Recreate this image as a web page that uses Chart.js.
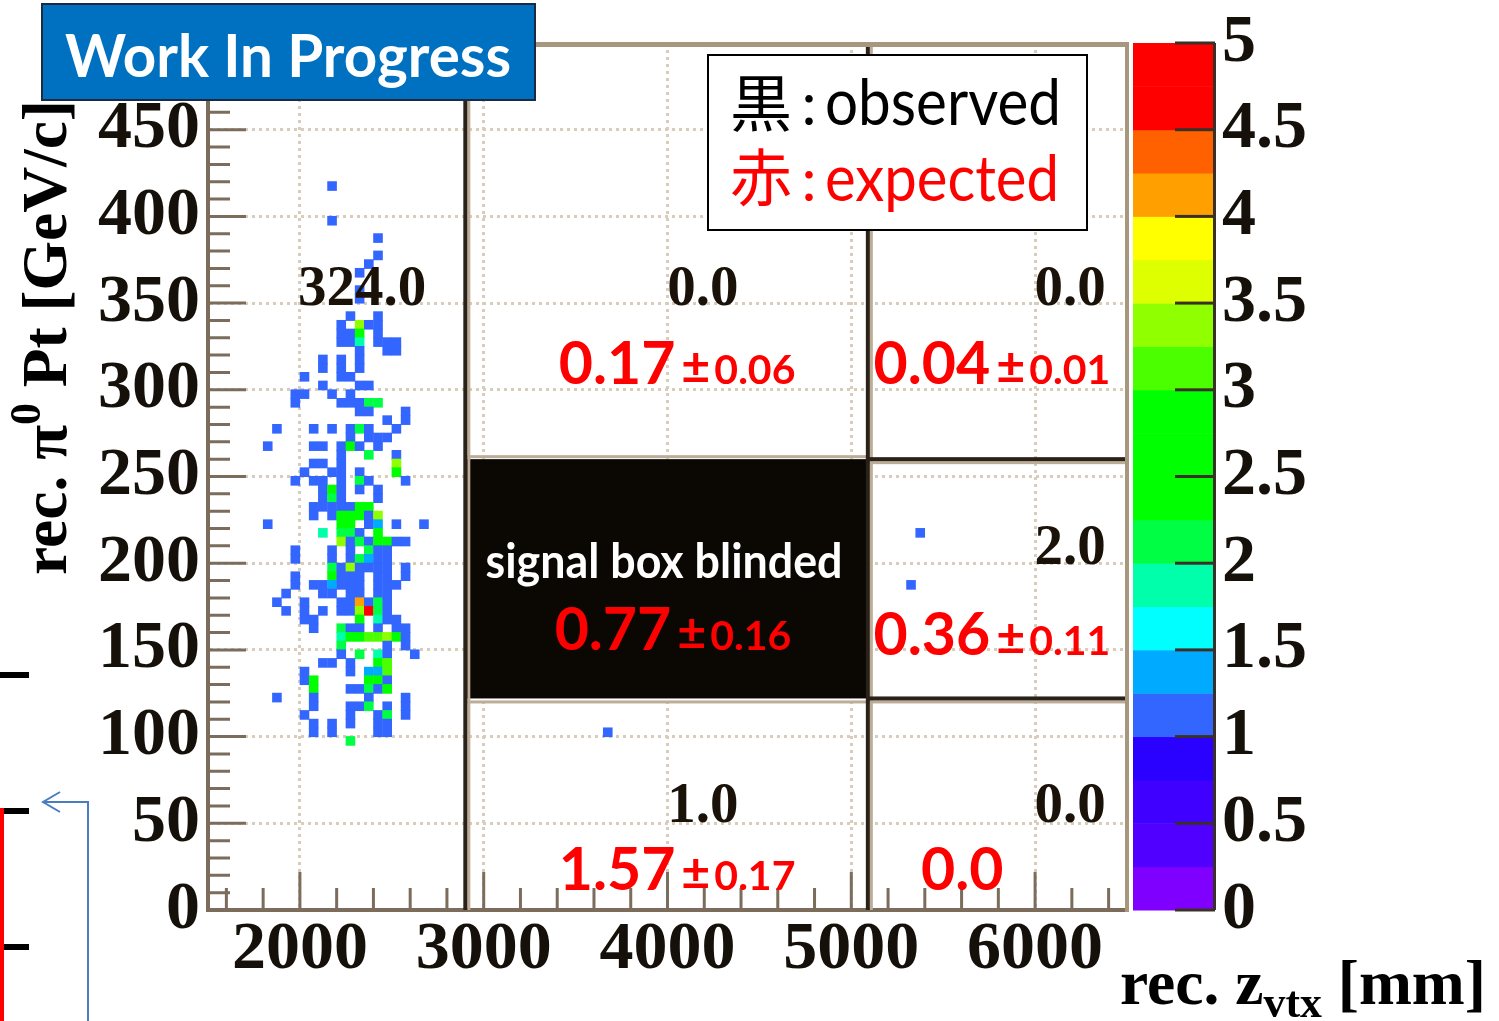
<!DOCTYPE html>
<html>
<head>
<meta charset="utf-8">
<script src="https://cdn.jsdelivr.net/npm/chart.js@4.4.1/dist/chart.umd.min.js"></script>
<style>
  html, body { margin: 0; padding: 0; background: #fff; overflow: hidden; }
  canvas { display: block; }
</style>
</head>
<body>
<canvas id="plot" width="1499" height="1021"></canvas>
<script>
// axis ticks
const zTicks = [2000, 3000, 4000, 5000, 6000];
const ptTicks = [0, 50, 100, 150, 200, 250, 300, 350, 400, 450];
const colourTicks = [0, 0.5, 1, 1.5, 2, 2.5, 3, 3.5, 4, 4.5, 5];

// signal box edges
const signalZ = [2900, 5090];
const signalPt = [122, 260];

// 2D histogram (50 mm x 5 GeV/c bins): one entry per Pt row,
// bin centres in z and the bin contents read from the colour scale
const ptRows = [
  417.5, 397.5, 387.5, 377.5, 372.5, 367.5, 357.5, 352.5, 342.5, 337.5,
  332.5, 327.5, 322.5, 317.5, 312.5, 307.5, 302.5, 297.5, 292.5, 287.5,
  282.5, 277.5, 272.5, 267.5, 262.5, 257.5, 252.5, 247.5, 242.5, 237.5,
  232.5, 227.5, 222.5, 217.5, 212.5, 207.5, 202.5, 197.5, 192.5, 187.5,
  182.5, 177.5, 172.5, 167.5, 162.5, 157.5, 152.5, 147.5, 142.5, 137.5,
  132.5, 127.5, 122.5, 117.5, 112.5, 107.5, 102.5, 97.5
];
const zRows = [
  [2175], [2175], [2425], [2425], [2375], [2325], [2325], [2325],
  [2275, 2425],
  [2225, 2325, 2375, 2425],
  [2225, 2275, 2325, 2425],
  [2225, 2275, 2325, 2425, 2475, 2525],
  [2325, 2475, 2525],
  [2125, 2225, 2325],
  [2125, 2225, 2325],
  [2025, 2225, 2275],
  [2125, 2325, 2375],
  [1975, 2025, 2175, 2275],
  [1975, 2225, 2275, 2325, 2375, 2425],
  [2325, 2375, 2575],
  [2475, 2575],
  [1875, 2075, 2175, 2275, 2325, 2375, 2525],
  [2275, 2375, 2425, 2475],
  [1825, 2075, 2125, 2225, 2275, 2325, 2425],
  [2225, 2375, 2525],
  [2075, 2125, 2225, 2525],
  [2025, 2175, 2225, 2325, 2525],
  [1975, 2075, 2125, 2225, 2325, 2375, 2575],
  [2125, 2175, 2225, 2325, 2425],
  [2125, 2175, 2225, 2425],
  [2075, 2125, 2175, 2225, 2275, 2325, 2375],
  [2075, 2175, 2225, 2275, 2325, 2375, 2425],
  [1825, 2225, 2275, 2375, 2425, 2525, 2675],
  [2125, 2225, 2275, 2325, 2425, 5375],
  [2225, 2275, 2325, 2375, 2425, 2475, 2525, 2575],
  [1975, 2175, 2275, 2375, 2425, 2475],
  [1975, 2175, 2275, 2325, 2375, 2425, 2475],
  [2175, 2225, 2275, 2325, 2375, 2425, 2475, 2575],
  [1975, 2175, 2225, 2275, 2325, 2425, 2475, 2575],
  [1975, 2075, 2125, 2175, 2225, 2275, 2325, 2425, 2475, 2525, 5325],
  [1925, 2125, 2175, 2275, 2325, 2425, 2475],
  [1875, 2025, 2225, 2275, 2325, 2375, 2425, 2475],
  [1925, 2025, 2125, 2225, 2275, 2325, 2375, 2425, 2475],
  [2025, 2075, 2325, 2425, 2475, 2525],
  [2075, 2225, 2275, 2325, 2425, 2525, 2575],
  [2225, 2275, 2325, 2375, 2425, 2475, 2525, 2575],
  [2225, 2475, 2575],
  [2225, 2325, 2425, 2475, 2625],
  [2125, 2175, 2275, 2425, 2475],
  [2025, 2275, 2375, 2425, 2475],
  [2025, 2075, 2375, 2425, 2475],
  [2075, 2275, 2325, 2375, 2425, 2475],
  [1875, 2075, 2375, 2575],
  [2075, 2275, 2325, 2375, 2475, 2575],
  [2025, 2275, 2425, 2475, 2575],
  [2075, 2175, 2275, 2425, 2475],
  [2075, 2175, 2425, 2475, 3675],
  [2275]
];
const nRows = [
  [1], [1], [1], [1], [1], [1], [1], [1],
  [1, 1],
  [1, 3.3, 1, 1],
  [1, 1, 2.5, 1],
  [1, 1, 1.8, 1, 1, 1],
  [1, 1, 1],
  [1, 1, 1],
  [1, 1, 1],
  [1, 1, 1],
  [1, 1, 1],
  [1, 1, 1, 1],
  [1, 1, 1, 1, 2, 2],
  [1, 1, 1],
  [1, 1],
  [1, 1, 1, 1, 2, 1, 1],
  [1, 1, 1, 1],
  [1, 1, 1, 1, 2.5, 1, 1],
  [1, 2, 1],
  [1, 1, 1, 3.3],
  [1, 1, 1, 1, 2.5],
  [1, 1, 1, 1, 2, 1, 1],
  [1, 2.5, 1, 1, 1],
  [1, 2, 1, 1],
  [1, 1, 1, 1, 1, 2.5, 2.5],
  [1, 1, 2.5, 2.5, 2.5, 1, 3.3],
  [1, 2.5, 2.5, 1, 1.3, 1, 1],
  [1.8, 2, 2, 1, 2.5, 1],
  [3.3, 1, 2, 1, 2.5, 2.5, 1, 1],
  [1, 1, 1, 2, 1, 1],
  [1, 1, 1, 2, 1.3, 1, 1],
  [2, 1, 3.3, 1, 1, 1, 1, 1],
  [1, 2.5, 1, 1, 1, 1, 1, 1],
  [1, 1, 1, 1.3, 1, 1, 1, 1, 1, 1, 1],
  [1, 1, 1, 1, 1, 1, 1],
  [1, 1, 1, 1, 4, 1, 2, 1],
  [1, 1, 1, 1, 1, 3.3, 5, 2, 1],
  [1, 1, 2.5, 1.8, 1, 1],
  [1, 2, 1, 1, 1, 1, 1],
  [1.8, 2.5, 2.5, 3, 3, 3.3, 2.5, 1],
  [2, 1, 1],
  [1, 2, 1.8, 1, 1],
  [1, 1, 1, 2.5, 3],
  [1, 1, 1.3, 1.3, 3],
  [1, 2.5, 2.5, 2.5, 1],
  [2.5, 1, 1, 2, 1, 2.5],
  [1, 1, 1, 1],
  [1, 1, 1, 2, 1, 1],
  [1, 1, 1, 2, 1],
  [1, 1, 1, 1, 1],
  [1, 1, 1, 1, 1],
  [2]
];

// numbers written in each region: observed (black), expected (red)
const observed = ['324.0', '0.0', '0.0', '2.0', '1.0', '0.0'];
const expected = ['0.17', '0.04', '0.77', '0.36', '1.57', '0.0'];
const expectedErr = ['0.06', '0.01', '0.16', '0.11', '0.17', ''];

// label anchors in data units: [z centre, Pt of baseline]
const observedAt = [[2338, 349], [4193, 349], [6190, 349], [6190, 199.5], [4193, 50.5], [6190, 50.5]];
const expectedAt = [[4052, 303.6], [5765, 303.6], [4030, 150.2], [5765, 146.8], [4052, 11.8], [5603, 11.8]];

const SERIF = '"Liberation Serif", "Times New Roman", serif';
const SANS = 'Lato, "Noto Sans CJK JP", sans-serif';

// ROOT-like palette, 20 levels between 0 and 5
const palette = [
  '#8000ff', '#5000ff', '#4000ff', '#2a00ff', '#3366ff',
  '#00aaff', '#00ffff', '#00ffaa', '#00ff44', '#00ff00',
  '#00ff00', '#00ff00', '#4cff00', '#90ff00', '#ddff00',
  '#ffff00', '#ffa000', '#ff6000', '#ff0000', '#ff0000'
];
function levelColour(v) {
  return palette[Math.min(19, Math.max(0, Math.floor(v / 0.25)))];
}

const cells = [];
ptRows.forEach((pt, i) => {
  zRows[i].forEach((z, j) => cells.push({ x: z, y: pt, v: nRows[i][j] }));
});

function put(ctx, s, x, y, font, colour, align, maxW) {
  ctx.font = font;
  ctx.fillStyle = colour;
  ctx.textAlign = align || 'center';
  ctx.textBaseline = 'alphabetic';
  if (maxW) ctx.fillText(s, x, y, maxW);
  else ctx.fillText(s, x, y);
}

function textWidth(ctx, s, font) {
  ctx.font = font;
  return ctx.measureText(s).width;
}

// draws pieces [text, font, dy] in a row, squeezed to a given width
function row(ctx, pieces, x0, y0, width) {
  let total = 0;
  pieces.forEach(p => { total += textWidth(ctx, p[0], p[1]); });
  ctx.save();
  ctx.translate(x0, y0);
  ctx.scale(width / total, 1);
  ctx.textAlign = 'left';
  ctx.textBaseline = 'alphabetic';
  ctx.fillStyle = '#000';
  let x = 0;
  pieces.forEach(p => {
    ctx.font = p[1];
    ctx.fillText(p[0], x, p[2]);
    x += ctx.measureText(p[0]).width;
  });
  ctx.restore();
}

const decorations = {
  id: 'decorations',
  afterDatasetsDraw(chart) {
    const { ctx, chartArea: a, scales: { x, y } } = chart;
    const zl = x.getPixelForValue(signalZ[0]);
    const zr = x.getPixelForValue(signalZ[1]);
    const pLo = y.getPixelForValue(signalPt[0]);
    const pHi = y.getPixelForValue(signalPt[1]);
    ctx.save();
    // blinded signal box
    ctx.fillStyle = '#0b0703';
    ctx.fillRect(zl, pHi, zr - zl, pLo - pHi);
    // region boundaries
    ctx.fillStyle = '#bcad97';
    ctx.fillRect(zl + 2, a.top, 3, a.bottom - a.top);
    ctx.fillRect(zr + 2, a.top, 3, a.bottom - a.top);
    ctx.fillRect(zr, pHi + 2, a.right - zr, 3);
    ctx.fillRect(zl, pLo + 2, a.right - zl, 3);
    ctx.fillRect(zl, pHi - 4, zr - zl, 3);
    ctx.fillStyle = '#2a2119';
    ctx.fillRect(zl - 2, a.top, 4, a.bottom - a.top);
    ctx.fillRect(zr - 2, a.top, 4, a.bottom - a.top);
    ctx.fillRect(zr, pHi - 2, a.right - zr, 4);
    ctx.fillRect(zr, pLo - 2, a.right - zr, 4);
    // frame top / right
    ctx.fillStyle = '#a8977f';
    ctx.fillRect(a.left, a.top - 1, a.right - a.left + 2, 5);
    ctx.fillRect(a.right - 2, a.top - 1, 4, a.bottom - a.top + 3);
    // inward ticks
    ctx.strokeStyle = '#7b6c5c';
    ctx.lineWidth = 3;
    ctx.beginPath();
    for (let v = 10; v < 500; v += 10) {
      const py = y.getPixelForValue(v);
      const len = v % 50 === 0 ? 38 : 22;
      ctx.moveTo(a.left, py); ctx.lineTo(a.left + len, py);
    }
    for (let v = 1600; v < 6500; v += 200) {
      const px = x.getPixelForValue(v);
      const len = v % 1000 === 0 ? 38 : 22;
      ctx.moveTo(px, a.bottom); ctx.lineTo(px, a.bottom - len);
    }
    ctx.stroke();
    ctx.restore();
  },
  afterDraw(chart) {
    const { ctx, chartArea: a, scales: { x, y, c } } = chart;
    ctx.save();

    // colour bar
    const barL = a.right + 6, barW = 82;
    for (let i = 0; i < 20; i++) {
      const y0 = c.getPixelForValue(i * 0.25);
      const y1 = c.getPixelForValue((i + 1) * 0.25);
      ctx.fillStyle = palette[i];
      ctx.fillRect(barL, y1, barW, y0 - y1 + 0.5);
    }
    ctx.fillStyle = '#3a3028';
    ctx.fillRect(barL + barW - 2, c.top, 3, c.bottom - c.top);
    colourTicks.forEach(v => {
      const py = c.getPixelForValue(v);
      ctx.fillRect(barL + 42, py - 1.5, barW - 42, 3);
    });

    // observed numbers
    observed.forEach((s, i) => {
      put(ctx, s, x.getPixelForValue(observedAt[i][0]), y.getPixelForValue(observedAt[i][1]),
        'bold 57px ' + SERIF, '#1a1208');
    });

    // signal box label
    put(ctx, 'signal box blinded', x.getPixelForValue(3981), y.getPixelForValue(191.7),
      'bold 47px ' + SANS, '#ffffff', 'center', 357);

    // expected numbers: value, then ± error in a smaller size
    const bigFont = 'bold 59px ' + SANS, pmFont = 'bold 50px ' + SANS, errFont = 'bold 41px ' + SANS;
    expected.forEach((s, i) => {
      const wb = textWidth(ctx, s, bigFont);
      const wpm = expectedErr[i] ? textWidth(ctx, '±', pmFont) + 4 : 0;
      const we = expectedErr[i] ? textWidth(ctx, expectedErr[i], errFont) : 0;
      const gap = expectedErr[i] ? 6 : 0;
      const x0 = x.getPixelForValue(expectedAt[i][0]) - (wb + gap + wpm + we) / 2;
      const by = y.getPixelForValue(expectedAt[i][1]);
      put(ctx, s, x0, by, bigFont, '#ff0000', 'left');
      if (expectedErr[i]) {
        put(ctx, '±', x0 + wb + gap, by, pmFont, '#ff0000', 'left');
        put(ctx, expectedErr[i], x0 + wb + gap + wpm, by, errFont, '#ff0000', 'left');
      }
    });

    // legend box
    ctx.fillStyle = '#ffffff';
    ctx.fillRect(708, 55, 379, 175);
    ctx.strokeStyle = '#000000';
    ctx.lineWidth = 2;
    ctx.strokeRect(708, 55, 379, 175);
    put(ctx, '黒', 730, 127, '62px "Noto Sans CJK JP"', '#000000', 'left');
    put(ctx, ':', 809, 125, '60px ' + SANS, '#000000', 'center');
    put(ctx, 'observed', 825, 125, '64px ' + SANS, '#000000', 'left', 236);
    put(ctx, '赤', 730, 201, '62px "Noto Sans CJK JP"', '#ff0000', 'left');
    put(ctx, ':', 809, 201, '60px ' + SANS, '#ff0000', 'center');
    put(ctx, 'expected', 825, 201, '64px ' + SANS, '#ff0000', 'left', 234);

    // Work In Progress banner
    ctx.fillStyle = '#0070c0';
    ctx.fillRect(42, 4, 493, 96);
    ctx.strokeStyle = '#1b2b44';
    ctx.lineWidth = 2;
    ctx.strokeRect(42, 4, 493, 96);
    put(ctx, 'Work In Progress', 288, 77, 'bold 60px ' + SANS, '#ffffff', 'center', 446);

    // axis titles
    const big = 'bold 64px ' + SERIF, small = 'bold 44px ' + SERIF;
    ctx.save();
    ctx.translate(66, 575);
    ctx.rotate(-Math.PI / 2);
    row(ctx, [['rec. π', big, 0], ['0', small, -26], [' Pt [GeV/c]', big, 0]], 0, 0, 475);
    ctx.restore();
    row(ctx, [['rec. z', big, 0], ['vtx', small, 13], [' [mm]', big, 0]], 1120, 1004, 366);

    // leftovers from the slide at the bottom left
    ctx.fillStyle = '#000000';
    [672, 808, 944].forEach(py => ctx.fillRect(0, py, 29, 6));
    ctx.fillStyle = '#ff0000';
    ctx.fillRect(0, 808, 4, 1021 - 808);
    ctx.strokeStyle = '#4a7cc0';
    ctx.lineWidth = 2;
    ctx.beginPath();
    ctx.moveTo(88, 1021); ctx.lineTo(88, 802); ctx.lineTo(43, 802);
    ctx.moveTo(60, 792); ctx.lineTo(43, 802); ctx.lineTo(60, 812);
    ctx.stroke();

    ctx.restore();
  }
};

const tickFont = { family: SERIF, size: 68, weight: 'bold' };

// keep the plot frame where it is: no extra room for the end labels
function fixVertical(width) {
  return s => { s.width = width; s.paddingTop = 0; s.paddingBottom = 0; };
}

new Chart(document.getElementById('plot').getContext('2d'), {
  type: 'scatter',
  data: {
    datasets: [{
      data: cells,
      xAxisID: 'x',
      yAxisID: 'y',
      pointStyle: 'rect',
      pointRadius: 6.8,
      pointHoverRadius: 6.8,
      borderWidth: 0,
      backgroundColor: ctx => levelColour(ctx.raw ? ctx.raw.v : 1)
    }]
  },
  options: {
    responsive: false,
    animation: false,
    devicePixelRatio: 1,
    events: [],
    layout: { padding: { top: 43, left: 0, right: 0, bottom: 0 } },
    plugins: { legend: { display: false }, tooltip: { enabled: false } },
    scales: {
      x: {
        type: 'linear',
        position: 'bottom',
        min: 1500,
        max: 6500,
        afterBuildTicks: s => { s.ticks = zTicks.map(v => ({ value: v })); },
        afterFit: s => { s.height = 111; s.paddingLeft = 0; s.paddingRight = 0; },
        grid: { color: '#d8ccba', lineWidth: 3, drawTicks: false },
        border: { color: '#7b6c5c', width: 4, dash: [3, 4] },
        ticks: { font: tickFont, color: '#15100a', padding: 0, maxRotation: 0, autoSkip: false, callback: v => String(v) }
      },
      y: {
        type: 'linear',
        position: 'left',
        min: 0,
        max: 500,
        afterBuildTicks: s => { s.ticks = ptTicks.map(v => ({ value: v })); },
        afterFit: fixVertical(208),
        grid: { color: '#d8ccba', lineWidth: 3, drawTicks: false },
        border: { color: '#7b6c5c', width: 4, dash: [3, 4] },
        ticks: { font: tickFont, color: '#15100a', padding: 8, autoSkip: false, callback: v => String(v) }
      },
      c: {
        type: 'linear',
        position: 'right',
        min: 0,
        max: 5,
        afterBuildTicks: s => { s.ticks = colourTicks.map(v => ({ value: v })); },
        afterFit: fixVertical(372),
        grid: { display: false, drawTicks: false },
        border: { display: false },
        ticks: { font: tickFont, color: '#15100a', padding: 95, autoSkip: false, callback: v => String(v) }
      }
    }
  },
  plugins: [decorations]
});
</script>
</body>
</html>
